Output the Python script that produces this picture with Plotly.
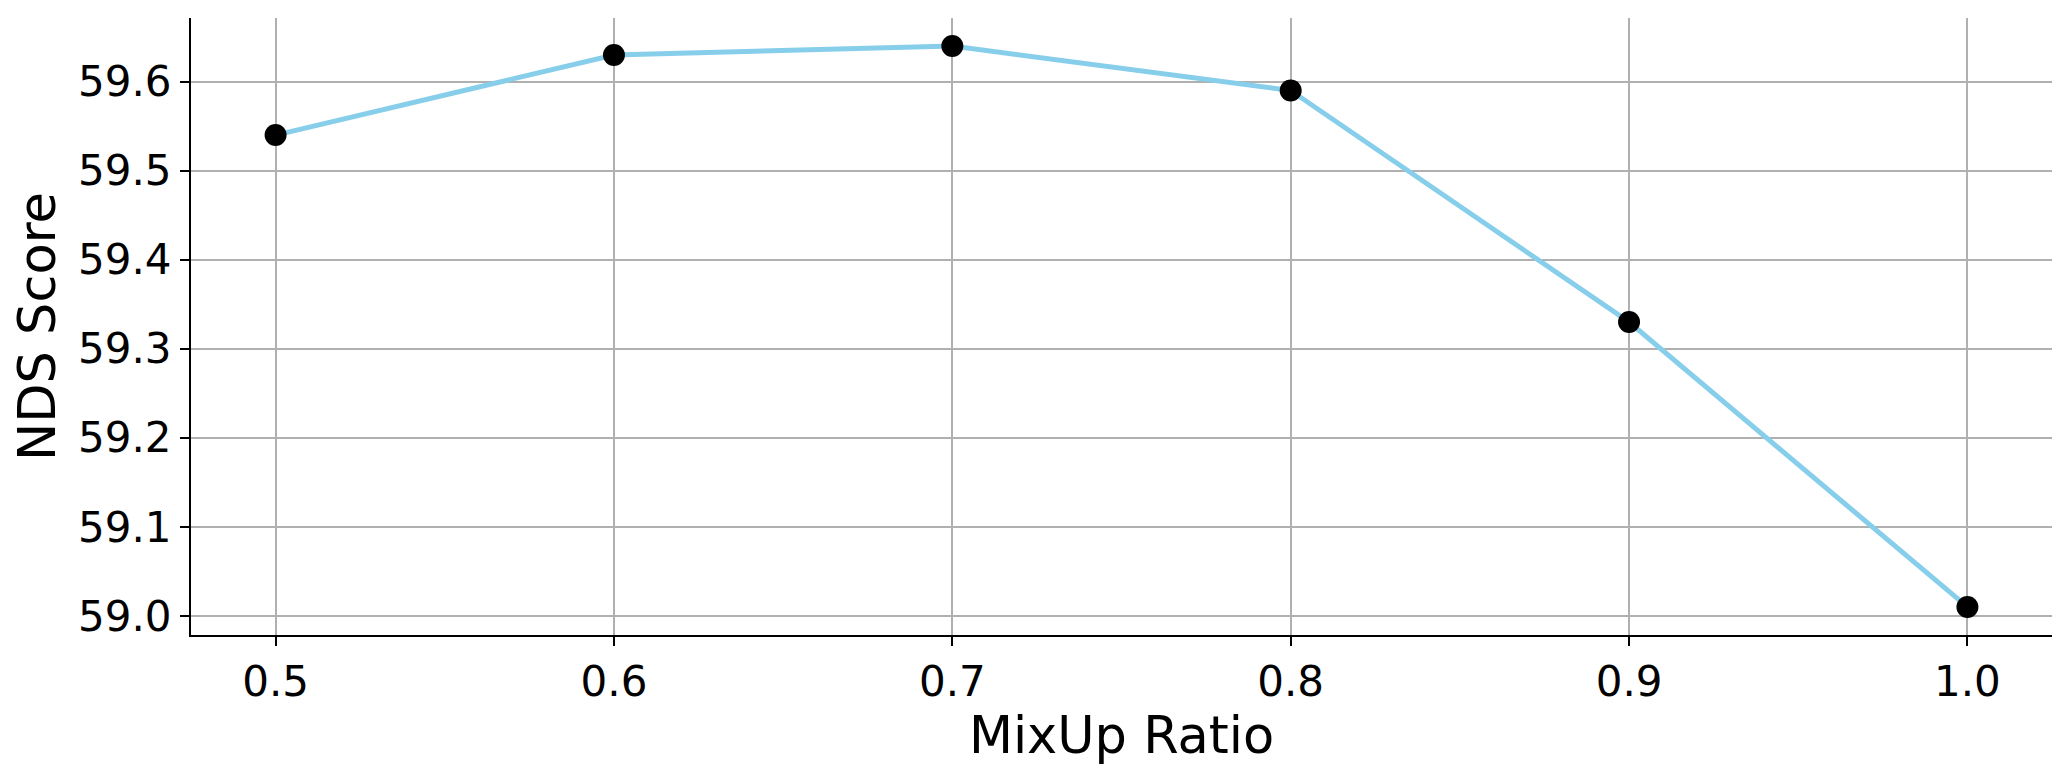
import plotly.graph_objects as go

mixup_ratio = [0.5, 0.6, 0.7, 0.8, 0.9, 1.0]
nds_score = [59.54, 59.63, 59.64, 59.59, 59.33, 59.01]
x_ticks = [0.5, 0.6, 0.7, 0.8, 0.9, 1.0]
y_ticks = [59.0, 59.1, 59.2, 59.3, 59.4, 59.5, 59.6]

FONT = "DejaVu Sans"

fig = go.Figure()
fig.add_trace(go.Scatter(
    x=mixup_ratio, y=nds_score, mode="lines",
    line=dict(color="#87CEEB", width=5),
    showlegend=False, hoverinfo="skip",
))
fig.add_trace(go.Scatter(
    x=mixup_ratio, y=nds_score, mode="markers",
    marker=dict(color="black", size=22, line=dict(width=0)),
    showlegend=False,
))

xmin, xmax = min(mixup_ratio), max(mixup_ratio)
ymin, ymax = min(nds_score), max(nds_score)
xpad = (xmax - xmin) * 0.05
ypad = (ymax - ymin) * 0.05

axis_common = dict(
    showline=True, linecolor="black", linewidth=2,
    ticks="outside", ticklen=9, tickwidth=2, tickcolor="black",
    showgrid=True, gridcolor="#b0b0b0", gridwidth=2,
    zeroline=False, mirror=False,
    tickfont=dict(family=FONT, size=42, color="black"),
    tickformat=".1f",
)

fig.update_layout(
    width=2071, height=776,
    margin=dict(l=183, r=27, t=10, b=149, autoexpand=False),
    paper_bgcolor="white", plot_bgcolor="white",
    font=dict(family=FONT, color="black"),
    xaxis=dict(
        range=[xmin - xpad, xmax + xpad],
        tickvals=x_ticks,
        title=dict(text="MixUp Ratio", font=dict(family=FONT, size=51, color="black"), standoff=0),
        automargin=False,
        **axis_common,
    ),
    yaxis=dict(
        range=[ymin - ypad, ymax + ypad],
        tickvals=y_ticks,
        title=dict(text="NDS Score", font=dict(family=FONT, size=51, color="black"), standoff=15),
        automargin=False,
        **axis_common,
    ),
)

fig.write_html("out.html")
